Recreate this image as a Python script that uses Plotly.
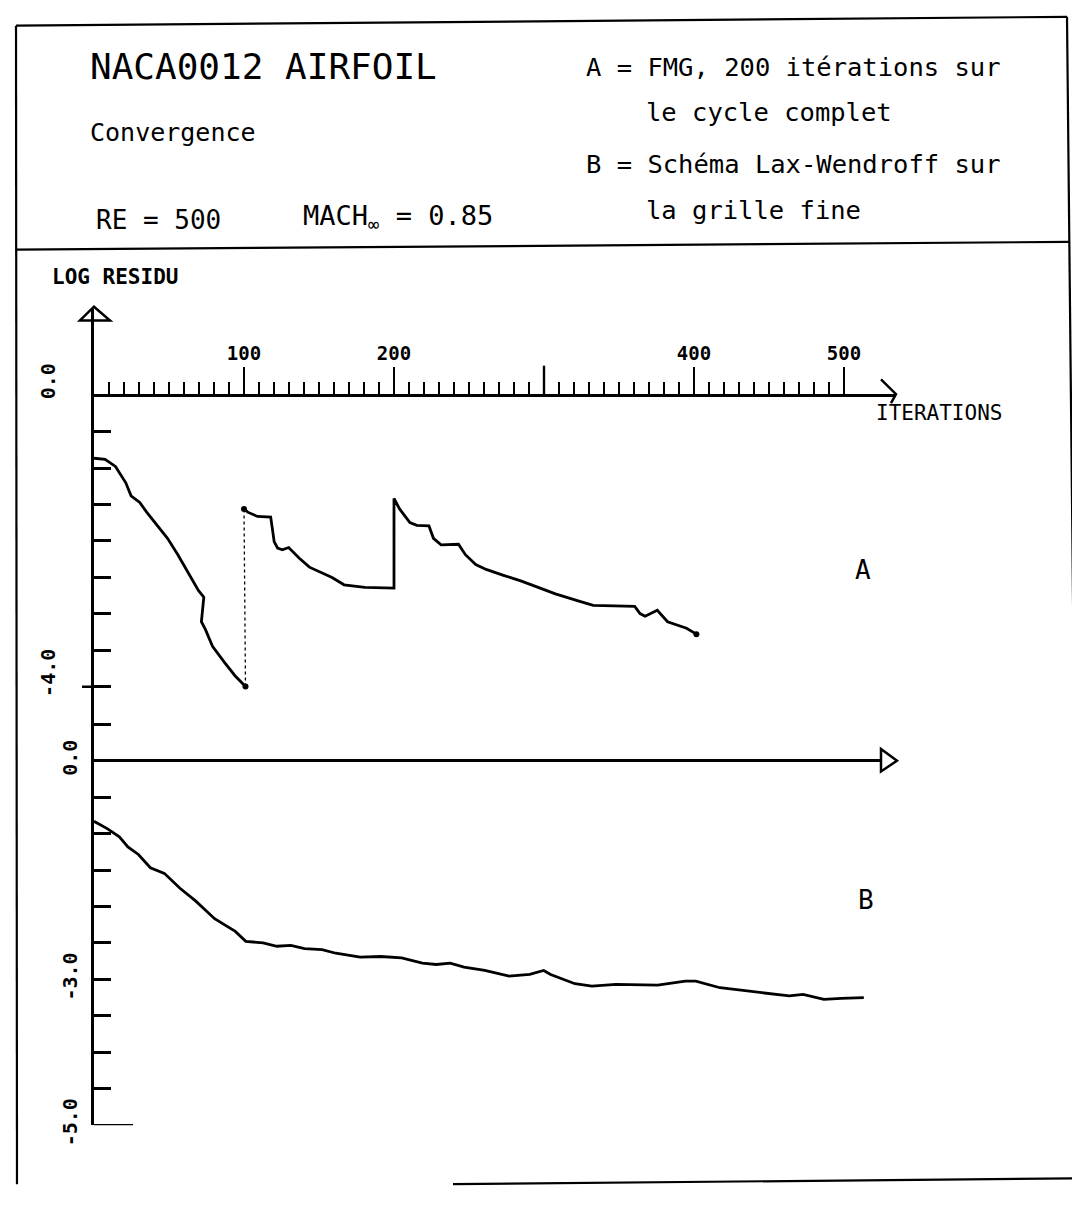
import plotly.graph_objects as go

# ---------------- data ----------------
# Curve A : FMG, first cycle (coarse) then fine-grid cycles
iters_A1 = [0, 7.4, 14.3, 21.2, 24.7, 30.5, 35.1, 42.0, 49.0, 55.9, 62.8, 69.7,
            73.2, 72.5, 71.6, 74.4, 79.0, 87.1, 94.0, 101.0]
resid_A1 = [-0.865, -0.879, -0.978, -1.202, -1.381, -1.471, -1.605, -1.785, -1.964,
            -2.188, -2.435, -2.682, -2.771, -2.928, -3.108, -3.220, -3.444, -3.668,
            -3.848, -3.996]

iters_A2 = [100.0, 102.5, 109.0, 117.8, 118.9, 120.1, 122.4, 125.6, 129.8, 136.7,
            143.6, 152.9, 158.7, 166.7, 180.6, 200.0, 200.0, 203.7, 210.6, 215.2,
            223.3, 226.3, 231.4, 243.0, 247.6, 254.5, 261.4, 273.0, 284.5, 296.1,
            307.6, 323.3, 332.8, 360.5, 364.0, 367.4, 375.5, 382.4, 395.0, 401.6]
resid_A2 = [-1.560, -1.605, -1.664, -1.673, -1.830, -2.009, -2.099, -2.121, -2.090,
            -2.233, -2.359, -2.448, -2.502, -2.601, -2.637, -2.646, -1.417, -1.561,
            -1.749, -1.785, -1.794, -1.964, -2.054, -2.045, -2.188, -2.323, -2.390,
            -2.471, -2.547, -2.637, -2.726, -2.825, -2.883, -2.897, -2.996, -3.031,
            -2.951, -3.108, -3.197, -3.278]

# Curve B : Lax-Wendroff on the fine grid
iters_B = [0, 8.8, 16.9, 22.6, 29.6, 37.6, 46.9, 57.3, 67.7, 80.4, 94.2, 101.2,
           112.7, 121.9, 131.2, 140.4, 152.0, 161.2, 177.4, 191.2, 205.1, 218.9,
           228.2, 237.4, 246.7, 260.5, 276.7, 290.5, 299.8, 304.4, 320.6, 331.9,
           348.0, 375.8, 394.2, 401.2, 417.3, 440.4, 463.5, 472.7, 486.6, 498.2, 513.2]
resid_B = [-0.832, -0.932, -1.045, -1.182, -1.286, -1.468, -1.545, -1.750, -1.923,
           -2.168, -2.341, -2.477, -2.500, -2.545, -2.532, -2.577, -2.591, -2.641,
           -2.695, -2.686, -2.705, -2.777, -2.795, -2.777, -2.832, -2.877, -2.955,
           -2.932, -2.877, -2.932, -3.059, -3.091, -3.068, -3.077, -3.023, -3.023,
           -3.114, -3.173, -3.227, -3.205, -3.273, -3.259, -3.250]

x_major = [100, 200, 400, 500]
x_major_text = ["100", "200", "400", "500"]
x_long_unlabelled = [300]
x_minor = [v for v in range(10, 500, 10) if v % 100 != 0]

yA_major = [0.0, -4.0]
yA_major_text = ["0.0", "-4.0"]
yA_minor = [-0.5, -1.0, -1.5, -2.0, -2.5, -3.0, -3.5]
yB_major = [0.0, -3.0, -5.0]
yB_major_text = ["0.0", "-3.0", "-5.0"]
yB_minor = [0.5, -0.5, -1.0, -1.5, -2.0, -2.5, -3.5, -4.0, -4.5]

# ---------------- geometry (pixels of the 1080x1208 page) ----------------
W, H = 1080, 1208
X0, SX = 86, 1.5          # pixel of iteration 0, pixels per iteration
S = 74.2                  # pixels per decade of residual
Y0A, TOPA, SPLIT = 394, 306, 711
Y0B = 766
BOTB = Y0B + 5 * S
XEND_A, XEND_B = 888, 873


def fx(p):
    return p / W


def fy(p):
    return 1 - p / H


FONT = "DejaVu Sans Mono"
INK = "black"

fig = go.Figure()

line_style = dict(color=INK, width=2.8)
fig.add_trace(go.Scatter(x=iters_A1, y=resid_A1, mode="lines", line=line_style,
                         xaxis="x", yaxis="y", showlegend=False))
fig.add_trace(go.Scatter(x=[iters_A1[-1], iters_A2[0]], y=[resid_A1[-1], resid_A2[0]],
                         mode="lines", line=dict(color=INK, width=1.3, dash="dot"),
                         xaxis="x", yaxis="y", showlegend=False))
fig.add_trace(go.Scatter(x=iters_A2, y=resid_A2, mode="lines", line=line_style,
                         xaxis="x", yaxis="y", showlegend=False))
fig.add_trace(go.Scatter(x=[iters_A1[-1], iters_A2[0], iters_A2[-1]],
                         y=[resid_A1[-1], resid_A2[0], resid_A2[-1]],
                         mode="markers", marker=dict(color=INK, size=6),
                         xaxis="x", yaxis="y", showlegend=False, cliponaxis=False))
fig.add_trace(go.Scatter(x=iters_B, y=resid_B, mode="lines", line=line_style,
                         xaxis="x2", yaxis="y2", showlegend=False))

axis_common = dict(showgrid=False, color=INK)
tick_font = dict(family=FONT, size=20, color=INK, weight="bold")

fig.update_layout(
    width=W, height=H,
    margin=dict(l=0, r=0, t=0, b=0),
    paper_bgcolor="white", plot_bgcolor="white",
    font=dict(family=FONT, color=INK),
    xaxis=dict(
        **axis_common,
        domain=[fx(X0), fx(XEND_A)], range=[0, (XEND_A - X0) / SX],
        anchor="free", position=fy(Y0A), side="top",
        showline=False, zeroline=False,
        tickmode="array", tickvals=x_major, ticktext=x_major_text,
        ticks="outside", ticklen=28, tickwidth=2.4, tickcolor=INK,
        tickfont=dict(family=FONT, size=19, color=INK, weight="bold"),
        minor=dict(tickmode="array", tickvals=x_minor, ticks="outside",
                   ticklen=13, tickwidth=2.4, tickcolor=INK),
    ),
    yaxis=dict(
        **axis_common,
        domain=[fy(SPLIT), fy(TOPA)],
        range=[(Y0A - SPLIT) / S, (Y0A - TOPA) / S],
        anchor="x", showline=True, linecolor=INK, linewidth=2.8,
        zeroline=True, zerolinecolor=INK, zerolinewidth=2.8,
        tickmode="array", tickvals=yA_major, ticktext=yA_major_text,
        ticks="inside", ticklen=17, tickwidth=2.6, tickcolor=INK,
        tickangle=-90, ticklabelstandoff=28, ticklabelshift=-11,
        tickfont=tick_font,
        minor=dict(tickmode="array", tickvals=yA_minor, ticks="inside",
                   ticklen=17, tickwidth=2.6, tickcolor=INK),
    ),
    xaxis2=dict(
        **axis_common,
        domain=[fx(X0), fx(XEND_B)], range=[0, (XEND_B - X0) / SX],
        anchor="y2", showline=False, zeroline=False,
        showticklabels=False, ticks="",
    ),
    yaxis2=dict(
        **axis_common,
        domain=[fy(BOTB), fy(SPLIT)],
        range=[-5.0, (Y0B - SPLIT) / S],
        anchor="x2", showline=True, linecolor=INK, linewidth=2.8,
        zeroline=True, zerolinecolor=INK, zerolinewidth=2.6,
        tickmode="array", tickvals=yB_major, ticktext=yB_major_text,
        ticks="inside", ticklen=17, tickwidth=2.6, tickcolor=INK,
        tickangle=-90, ticklabelstandoff=6,
        tickfont=tick_font,
        minor=dict(tickmode="array", tickvals=yB_minor, ticks="inside",
                   ticklen=17, tickwidth=2.6, tickcolor=INK),
    ),
)

# ---------------- frame, arrow heads, special ticks ----------------
def path(pts, close=False):
    s = "M " + " L ".join(f"{fx(x):.5f},{fy(y):.5f}" for x, y in pts)
    return s + (" Z" if close else "")


def seg(pts, width=2.2, close=False):
    return dict(type="path", path=path(pts, close), xref="paper", yref="paper",
                line=dict(color=INK, width=width))


shapes = [
    # outer frame (scan is slightly tilted)
    seg([(8, 18), (1059, 9)]),
    seg([(8, 18), (9, 1197)]),
    seg([(1059, 9), (1071, 1191)]),
    seg([(445, 1197), (1071, 1191)]),
    # header separator
    seg([(8, 246), (1061, 238)]),
    # y-axis arrow head (open triangle)
    seg([(72, 318), (X0, 304), (102, 318)], width=2.5, close=True),
    # upper x-axis arrow head
    seg([(873, 378), (XEND_A, 393), (883, 402)], width=2.5),
    # lower x-axis arrow head (open triangle)
    seg([(XEND_B, 754), (XEND_B + 16, 766), (XEND_B, 777)], width=2.5, close=True),
]
# long unlabelled tick at 300 on the upper iteration axis
for v in x_long_unlabelled:
    shapes.append(dict(type="line", xref="x", yref="paper", x0=v, x1=v,
                       y0=fy(Y0A), y1=fy(Y0A - 30), line=dict(color=INK, width=2.4)))
# cross mark at -4.0 and long tick at -5.0
shapes.append(dict(type="line", xref="paper", yref="y", x0=fx(74), x1=fx(X0),
                   y0=yA_major[-1], y1=yA_major[-1], line=dict(color=INK, width=2.6)))
shapes.append(dict(type="line", xref="paper", yref="y2", x0=fx(X0), x1=fx(125),
                   y0=yB_major[-1], y1=yB_major[-1], line=dict(color=INK, width=2.6)))
fig.update_layout(shapes=shapes)

# ---------------- texts ----------------
def note(text, x, y, size, anchor="left", bold=False):
    fig.add_annotation(text=text, x=fx(x), y=fy(y), xref="paper", yref="paper",
                       xanchor=anchor, yanchor="middle", showarrow=False,
                       font=dict(family=FONT, size=size, color=INK,
                                 weight="bold" if bold else "normal"))


note("NACA0012 AIRFOIL", 80, 60, 36)
note("Convergence", 80, 127, 25)
note("RE = 500", 86, 216, 26)
note("MACH<sub>∞</sub> = 0.85", 293, 213, 27)
note("A = FMG, 200 itérations sur", 576, 60, 25.5)
note("le cycle complet", 636, 106, 25.5)
note("B = Schéma Lax-Wendroff sur", 576, 159, 25.5)
note("la grille fine", 636, 206, 25.5)
note("LOG RESIDU", 42, 274, 21, bold=True)
note("ITERATIONS", 866, 412, 21)
note("A", 855, 572, 26, anchor="center")
note("B", 858, 908, 26, anchor="center")

fig.write_html("out.html")
